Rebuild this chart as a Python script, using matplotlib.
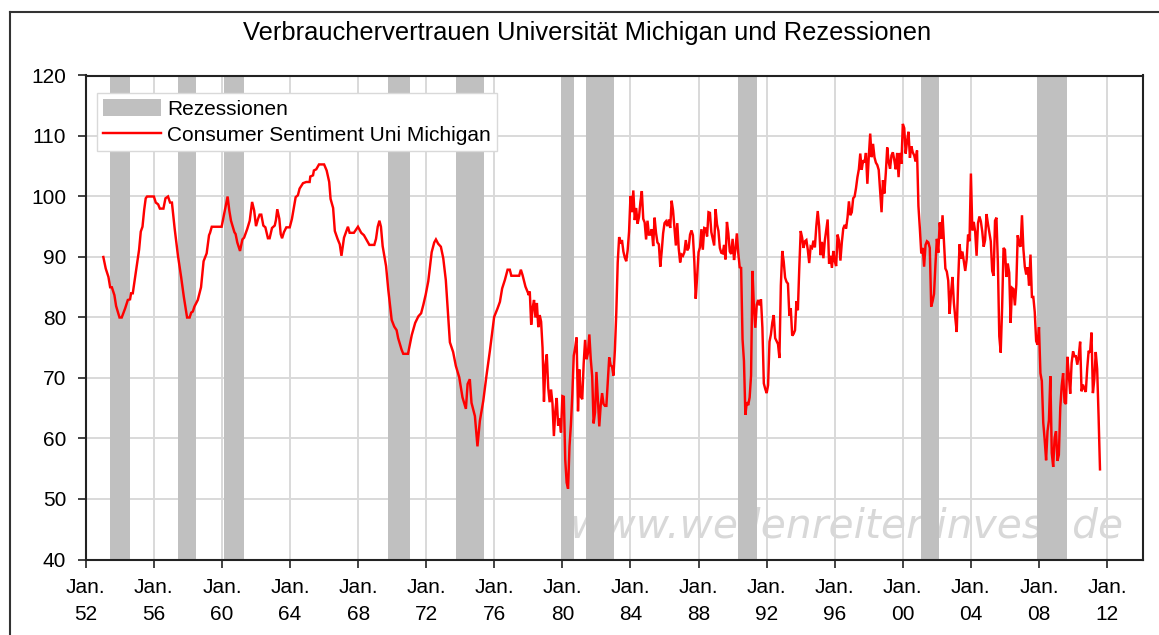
import matplotlib
matplotlib.use('Agg')
import matplotlib.pyplot as plt
from matplotlib.patches import Patch
from matplotlib.lines import Line2D

# ---- data ----
early_years = [1953.03, 1953.17, 1953.33, 1953.43, 1953.53, 1953.68, 1953.78, 1953.98, 1954.11, 1954.31,
               1954.47, 1954.60, 1954.66, 1954.76, 1954.90, 1955.00, 1955.13, 1955.23, 1955.33, 1955.43,
               1955.52, 1955.60, 1956.00, 1956.11, 1956.25, 1956.35, 1956.56, 1956.68, 1956.83, 1956.95,
               1957.06, 1957.22, 1957.41, 1957.60, 1957.76, 1957.95, 1958.10, 1958.19, 1958.29, 1958.38,
               1958.58, 1958.77, 1958.92, 1959.10, 1959.24, 1959.30, 1959.40, 1959.98, 1960.33, 1960.43,
               1960.53, 1960.73, 1960.80, 1960.90, 1961.06, 1961.20, 1961.30, 1961.48, 1961.63, 1961.77,
               1961.89, 1962.00, 1962.12, 1962.21, 1962.31, 1962.43, 1962.55, 1962.70, 1962.80, 1962.94,
               1963.10, 1963.17, 1963.25, 1963.37, 1963.45, 1963.53, 1963.64, 1963.78, 1963.98, 1964.11,
               1964.33, 1964.46, 1964.56, 1964.76, 1964.95, 1965.15, 1965.19, 1965.35, 1965.40, 1965.54,
               1965.70, 1966.00, 1966.15, 1966.30, 1966.38, 1966.53, 1966.63, 1966.79, 1966.92, 1967.02,
               1967.17, 1967.27, 1967.40, 1967.50, 1967.75, 1967.99, 1968.18, 1968.34, 1968.46, 1968.66,
               1968.95, 1969.05, 1969.15, 1969.25, 1969.34, 1969.44, 1969.64, 1969.77, 1969.97, 1970.12,
               1970.26, 1970.35, 1970.55, 1970.65, 1970.93, 1971.00, 1971.15, 1971.35, 1971.54, 1971.70,
               1971.83, 1971.97, 1972.12, 1972.32, 1972.47, 1972.57, 1972.70, 1972.86, 1973.00, 1973.15,
               1973.25, 1973.39, 1973.58, 1973.74, 1973.94, 1974.13, 1974.33, 1974.43, 1974.56, 1974.66,
               1974.86, 1975.01, 1975.15, 1975.35, 1975.54, 1975.74, 1975.99, 1976.19, 1976.33, 1976.46,
               1976.62, 1976.78, 1976.91, 1977.00, 1977.46, 1977.56, 1977.66, 1977.83, 1977.99]
early_values = [90.0, 88.1, 86.7, 85.0, 85.0, 83.7, 81.9, 80.0, 80.0, 81.5,
                82.9, 83.0, 84.0, 84.0, 86.7, 88.7, 91.2, 94.2, 95.0, 97.8,
                99.7, 100.0, 100.0, 99.0, 98.7, 98.0, 98.0, 99.7, 100.0, 99.0,
                99.0, 94.7, 90.3, 86.7, 83.4, 80.0, 80.0, 80.8, 81.0, 81.8,
                82.9, 85.0, 89.3, 90.6, 93.6, 94.0, 95.0, 95.0, 100.0, 97.7,
                96.0, 94.1, 93.8, 92.4, 91.0, 92.9, 93.2, 94.6, 96.0, 99.1,
                97.7, 95.1, 96.3, 97.0, 97.0, 95.2, 94.9, 93.1, 93.1, 94.8,
                95.2, 96.1, 97.9, 96.3, 93.8, 93.1, 94.1, 94.9, 94.9, 96.3,
                99.9, 100.2, 101.3, 102.2, 102.4, 102.4, 103.3, 103.5, 104.3, 104.5,
                105.3, 105.3, 104.3, 102.4, 99.6, 98.1, 94.3, 93.0, 92.1, 90.2,
                93.2, 94.0, 95.0, 94.0, 94.0, 95.0, 94.0, 93.6, 93.0, 92.0,
                92.0, 93.0, 95.0, 96.0, 95.0, 91.8, 88.5, 84.6, 79.6, 78.5,
                77.9, 76.6, 74.7, 74.0, 74.0, 75.0, 77.1, 79.1, 80.2, 80.7,
                82.1, 83.8, 86.0, 90.8, 92.4, 92.9, 92.2, 91.7, 89.8, 86.2,
                81.8, 75.9, 74.3, 72.0, 70.1, 66.8, 64.9, 69.0, 69.8, 65.9,
                63.7, 58.7, 62.9, 66.2, 70.4, 74.5, 80.1, 81.5, 82.6, 84.8,
                86.2, 87.9, 87.9, 86.9, 86.9, 87.9, 87.0, 85.1, 84.0]

monthly_start_year = 1978
sentiment_1978_1989 = [
    83.7, 84.3, 78.8, 81.6, 82.9, 80.0, 82.4, 78.4, 80.4, 79.3, 75.0, 66.1,
    72.1, 73.9, 68.4, 66.0, 68.1, 65.8, 60.4, 64.5, 66.7, 62.1, 63.3, 61.0,
    67.0, 66.9, 56.5, 52.7, 51.7, 58.7, 62.3, 67.3, 73.7, 75.0, 76.7, 64.5,
    71.4, 66.9, 66.5, 72.4, 76.3, 73.1, 74.1, 77.2, 73.1, 70.3, 62.5, 64.3,
    71.0, 66.5, 62.0, 65.5, 67.5, 65.7, 65.4, 65.4, 69.3, 73.4, 72.1, 71.9,
    70.4, 74.6, 80.8, 89.1, 93.3, 92.2, 92.8, 90.9, 89.9, 89.3, 91.1, 94.2,
    100.1, 97.4, 101.0, 96.1, 98.1, 95.5, 96.6, 99.1, 100.9, 96.3, 95.7, 92.9,
    96.0, 93.7, 93.7, 94.6, 91.8, 96.5, 94.0, 92.4, 92.1, 88.4, 90.9, 93.9,
    95.6, 95.9, 95.1, 96.2, 94.8, 99.3, 97.7, 94.9, 91.9, 95.6, 91.4, 89.1,
    90.4, 90.2, 90.8, 92.8, 91.1, 91.5, 93.7, 94.4, 93.6, 89.3, 83.1, 86.8,
    90.8, 91.6, 94.6, 91.2, 94.8, 94.7, 93.4, 97.4, 97.3, 94.1, 93.0, 91.9,
    97.9, 95.4, 94.3, 91.5, 90.7, 90.6, 92.0, 89.6, 95.8, 93.9, 90.9, 90.5]
sentiment_1990_1999 = [
    93.0, 89.5, 91.3, 93.9, 90.6, 88.3, 88.2, 76.4, 72.8, 63.9, 66.0, 65.5,
    66.8, 70.4, 87.7, 81.8, 78.3, 82.1, 82.9, 82.0, 83.0, 78.3, 69.1, 68.2,
    67.5, 68.8, 76.0, 77.2, 79.2, 80.4, 76.6, 76.1, 75.6, 73.3, 85.3, 91.0,
    89.3, 86.6, 85.9, 85.6, 80.3, 81.5, 77.0, 77.3, 77.9, 82.7, 81.2, 88.2,
    94.3, 93.2, 91.5, 92.6, 92.8, 91.2, 89.0, 91.7, 91.5, 92.7, 91.6, 95.1,
    97.6, 95.1, 90.3, 92.5, 89.8, 92.7, 94.4, 96.2, 88.9, 90.2, 88.2, 91.0,
    89.3, 88.5, 93.7, 92.7, 89.4, 92.4, 94.7, 95.3, 94.7, 96.5, 99.2, 96.9,
    97.4, 99.7, 100.0, 101.4, 103.2, 104.5, 107.1, 104.4, 106.0, 105.6, 107.2, 102.1,
    106.6, 110.4, 106.5, 108.7, 106.5, 105.6, 105.2, 104.4, 100.9, 97.4, 102.7, 100.5,
    103.9, 108.1, 105.7, 104.6, 106.8, 107.3, 106.0, 104.5, 107.2, 103.2, 107.2, 105.4]
sentiment_2000_2011 = [
    112.0, 111.3, 107.1, 109.2, 110.7, 106.4, 108.3, 107.3, 106.8, 105.8, 107.6, 98.4,
    94.7, 90.6, 91.5, 88.4, 92.0, 92.6, 92.4, 91.5, 81.8, 82.7, 83.9, 88.8,
    93.0, 90.7, 95.7, 93.0, 96.9, 92.4, 88.1, 87.6, 86.1, 80.6, 84.2, 86.7,
    82.4, 79.9, 77.6, 86.0, 92.1, 89.7, 90.9, 89.3, 87.7, 89.6, 93.7, 92.6,
    103.8, 94.4, 95.8, 94.2, 90.2, 95.6, 96.7, 95.9, 94.2, 91.7, 92.8, 97.1,
    95.5, 94.1, 92.6, 87.7, 86.9, 96.0, 96.5, 89.1, 76.9, 74.2, 81.6, 91.5,
    91.2, 86.7, 88.9, 87.4, 79.1, 84.9, 84.7, 82.0, 85.4, 93.6, 92.1, 91.7,
    96.9, 91.3, 88.4, 87.1, 88.3, 85.3, 90.4, 83.4, 83.4, 80.9, 76.1, 75.5,
    78.4, 70.8, 69.5, 62.6, 59.8, 56.4, 61.2, 63.0, 70.3, 57.6, 55.3, 60.1,
    61.2, 56.3, 57.3, 65.1, 68.7, 70.8, 66.0, 65.7, 73.5, 70.6, 67.4, 72.5,
    74.4, 73.6, 73.6, 72.2, 73.6, 76.0, 67.8, 68.9, 68.2, 67.7, 71.6, 74.5,
    74.2, 77.5, 67.5, 69.8, 74.3, 71.5, 63.7, 54.9]

recession_start = [1953.42, 1957.42, 1960.12, 1969.76, 1973.75, 1979.89, 1981.41, 1990.34, 2001.05, 2007.90]
recession_end = [1954.60, 1958.48, 1961.30, 1971.05, 1975.40, 1980.68, 1983.03, 1991.41, 2002.12, 2009.66]

tick_years = list(range(1952, 2013, 4))
tick_labels = ["Jan.\n%02d" % (y % 100) for y in tick_years]
y_ticks = list(range(40, 121, 10))

title = "Verbrauchervertrauen Universität Michigan und Rezessionen"
legend_labels = ["Rezessionen", "Consumer Sentiment Uni Michigan"]
watermark = "www.wellenreiter-invest.de"

# ---- build series ----
monthly_values = sentiment_1978_1989 + sentiment_1990_1999 + sentiment_2000_2011
monthly_years = [monthly_start_year + i / 12.0 for i in range(len(monthly_values))]
xs = early_years + monthly_years
ys = early_values + monthly_values

plt.rcParams['font.family'] = ['Liberation Sans', 'DejaVu Sans']

W, H = 1159, 635
fig = plt.figure(figsize=(W / 100, H / 100), dpi=100)
L, R, T, B = 85.8, 1143, 75.5, 559.5
ax = fig.add_axes([L / W, 1 - B / H, (R - L) / W, (B - T) / H])

band_color = '#c0c0c0'
for s, e in zip(recession_start, recession_end):
    ax.axvspan(s, e, color=band_color, lw=0, zorder=1)

ax.plot(xs, ys, color='red', lw=1.75, zorder=3, solid_joinstyle='miter')

ax.set_xlim(1952, 2014.11)
ax.set_ylim(40, 120)
ax.set_xticks(tick_years)
ax.set_xticklabels(tick_labels, linespacing=1.55)
ax.set_yticks(y_ticks)
ax.tick_params(axis='both', direction='out', length=6, width=1.2, color='#222222',
               labelsize=15, labelcolor='black')
ax.tick_params(axis='x', pad=7)
ax.tick_params(axis='y', pad=8)
ax.grid(True, color='#d9d9d9', lw=1.4)
ax.set_axisbelow(True)
for sp in ax.spines.values():
    sp.set_color('#222222')
    sp.set_linewidth(1.5)

# watermark
ax.text((570 - L) / (R - L), (B - 537) / (B - T), watermark, transform=ax.transAxes,
        fontsize=29.3, family='DejaVu Sans', style='italic', color='#d8d8d8',
        ha='left', va='baseline', zorder=0.8)

handles = [Patch(facecolor=band_color, edgecolor='none', label=legend_labels[0]),
           Line2D([0], [0], color='red', lw=1.75, label=legend_labels[1])]
leg = ax.legend(handles=handles, loc='upper left',
                bbox_to_anchor=((97 - L) / (R - L), (B - 93) / (B - T)),
                fontsize=15, frameon=True, fancybox=False, framealpha=1,
                edgecolor='#d9d9d9', borderpad=0.3, labelspacing=0.3,
                handlelength=2.75, handleheight=0.85, handletextpad=0.3,
                borderaxespad=0)
leg.get_frame().set_linewidth(1.0)
leg.set_zorder(5)

fig.text(587 / W, 1 - 33 / H, title, ha='center', va='center', fontsize=18.4)

# outer frame (top and left edges visible)
fig.add_artist(Line2D([10 / W, 10 / W], [-0.1, 1 - 12 / H], color='#333333', lw=1.5,
                      transform=fig.transFigure))
fig.add_artist(Line2D([10 / W, 1.1], [1 - 12 / H, 1 - 12 / H], color='#333333', lw=1.5,
                      transform=fig.transFigure))

fig.savefig('out.png', dpi=100)
